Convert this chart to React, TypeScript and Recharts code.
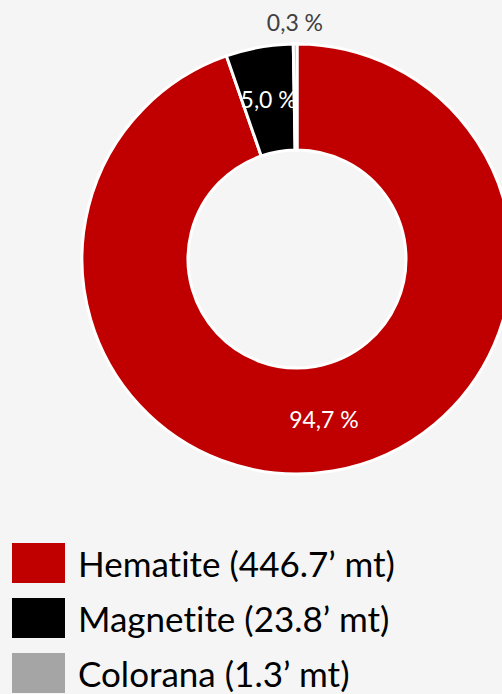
import { PieChart, Pie, Cell } from 'recharts'

const minerals = ['Hematite', 'Magnetite', 'Colorana']
const tonnes = [446.7, 23.8, 1.3]
const colors = ['#c00000', '#000000', '#a5a5a5']

const data = minerals.map((name, i) => ({ name, value: tonnes[i] }))

const RAD = Math.PI / 180
const font = 'Lato, "Open Sans", sans-serif'

function SliceLabel(props: any) {
  const { cx, cy, midAngle, innerRadius, outerRadius, percent } = props
  const text = (percent * 100).toFixed(1).replace('.', ',') + ' %'
  const outside = percent < 0.01
  const r = outside ? outerRadius + 22 : (innerRadius + outerRadius) / 2
  const x = cx + r * Math.cos(-midAngle * RAD)
  const y = cy + r * Math.sin(-midAngle * RAD)
  return (
    <text
      x={x}
      y={y}
      fill={outside ? '#404040' : '#ffffff'}
      textAnchor="middle"
      dominantBaseline="central"
      fontFamily={font}
      fontSize={23}
    >
      {text}
    </text>
  )
}

export default function App() {
  return (
    <div
      style={{
        position: 'fixed',
        left: 0,
        top: 0,
        width: 502,
        height: 694,
        background: '#f5f5f5',
        overflow: 'hidden',
      }}
    >
      <PieChart
        width={502}
        height={520}
        margin={{ top: 0, right: 0, bottom: 0, left: 0 }}
        style={{ position: 'absolute', left: 0, top: 0 }}
      >
        <Pie
          data={data}
          dataKey="value"
          cx={297}
          cy={259}
          innerRadius={109}
          outerRadius={215}
          startAngle={90}
          endAngle={-270}
          stroke="#ffffff"
          strokeWidth={3}
          label={SliceLabel}
          labelLine={false}
          isAnimationActive={false}
        >
          {data.map((d, i) => (
            <Cell key={d.name} fill={colors[i]} />
          ))}
        </Pie>
      </PieChart>
      {data.map((d, i) => (
        <div
          key={d.name}
          style={{
            position: 'absolute',
            left: 12,
            top: 543 + i * 55,
            height: 40,
            display: 'flex',
            alignItems: 'center',
          }}
        >
          <div style={{ width: 53, height: 40, background: colors[i], flexShrink: 0 }} />
          <span
            style={{
              marginLeft: 13,
              fontFamily: font,
              fontSize: 35,
              lineHeight: '40px',
              fontVariantLigatures: 'none',
              color: '#000',
              whiteSpace: 'nowrap',
            }}
          >
            {d.name} ({d.value}’ mt)
          </span>
        </div>
      ))}
    </div>
  )
}
